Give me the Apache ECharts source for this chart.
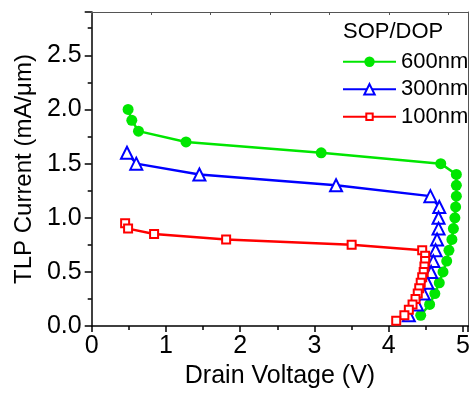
<!DOCTYPE html>
<html>
<head>
<meta charset="utf-8">
<script src="https://cdn.jsdelivr.net/npm/echarts@6/dist/echarts.min.js"></script>
<style>
  html, body { margin: 0; padding: 0; background: #fff; }
  #chart { width: 473px; height: 394px; }
</style>
</head>
<body>
<div id="chart"></div>
<script>
// [drain voltage (V), TLP current (mA/um)]
const sop600 = [[0.49, 2.00], [0.54, 1.90], [0.63, 1.80], [1.27, 1.70], [3.09, 1.60], [4.70, 1.50],
  [4.91, 1.40], [4.91, 1.30], [4.91, 1.20], [4.90, 1.10], [4.89, 1.00], [4.87, 0.90], [4.85, 0.80],
  [4.81, 0.70], [4.78, 0.60], [4.73, 0.50], [4.68, 0.40], [4.62, 0.30], [4.55, 0.20], [4.43, 0.10]]
const sop300 = [[0.475, 1.60], [0.60, 1.50], [1.45, 1.40], [3.29, 1.30], [4.56, 1.20], [4.68, 1.10],
  [4.67, 1.00], [4.67, 0.90], [4.65, 0.80], [4.63, 0.70], [4.60, 0.60], [4.57, 0.50], [4.52, 0.40],
  [4.47, 0.30], [4.38, 0.20], [4.27, 0.10]]
const sop100 = [[0.45, 0.95], [0.49, 0.90], [0.84, 0.85], [1.81, 0.80], [3.50, 0.75], [4.45, 0.70],
  [4.49, 0.65], [4.49, 0.60], [4.48, 0.55], [4.47, 0.50], [4.45, 0.45], [4.43, 0.40], [4.41, 0.35],
  [4.39, 0.30], [4.36, 0.25], [4.32, 0.20], [4.27, 0.15], [4.21, 0.10], [4.10, 0.05]]
const seriesNames = ['600nm', '300nm', '100nm']
const legendTitle = 'SOP/DOP'

const font = 'Liberation Sans, Arial, sans-serif'
let myChart = echarts.init(document.getElementById('chart'))

// one legend per row so each keeps its own marker size
const legendRow = (name, top, h) => ({
  orient: 'vertical',
  left: 342,
  top: top,
  padding: 0,
  itemWidth: 53,
  itemHeight: h,
  textStyle: { fontFamily: font, fontSize: 22, color: '#000' },
  data: [name]
})

myChart.setOption({
  animation: false,
  title: {
    text: legendTitle,
    left: 343,
    top: 21,
    padding: 0,
    textStyle: { fontFamily: font, fontSize: 22, fontWeight: 'normal', color: '#000' }
  },
  legend: [
    legendRow(seriesNames[0], 50.7, 13),
    legendRow(seriesNames[1], 78.3, 13),
    legendRow(seriesNames[2], 105.7, 8)
  ],
  grid: { left: 91.7, right: 1.3, top: 12, bottom: 64.7 },
  xAxis: [
    {
      type: 'value',
      min: 0,
      max: 5.07,
      interval: 1,
      name: 'Drain Voltage (V)',
      nameLocation: 'middle',
      nameGap: 36,
      nameTextStyle: { fontFamily: font, fontSize: 25, color: '#000' },
      axisLine: { onZero: false, lineStyle: { color: '#000', width: 1.5 } },
      axisTick: { inside: false, length: 6, lineStyle: { color: '#000', width: 1.5 } },
      minorTick: { show: true, splitNumber: 2, length: 4, lineStyle: { color: '#000', width: 1.5 } },
      axisLabel: { fontFamily: font, fontSize: 25, color: '#000', margin: 8, showMaxLabel: false },
      splitLine: { show: false }
    },
    {
      type: 'value',
      position: 'top',
      min: 0,
      max: 5.07,
      interval: 0.8,
      axisLine: { show: true, onZero: false, lineStyle: { color: '#555', width: 1 } },
      axisTick: { show: true, inside: true, length: 3, lineStyle: { color: '#555' } },
      axisLabel: { show: false },
      splitLine: { show: false }
    }
  ],
  yAxis: [
    {
      type: 'value',
      min: 0,
      max: 2.9,
      interval: 0.5,
      name: 'TLP Current (mA/\u03bcm)',
      nameLocation: 'middle',
      nameGap: 54,
      nameTextStyle: { fontFamily: font, fontSize: 24, color: '#000' },
      axisLine: { onZero: false, lineStyle: { color: '#000', width: 1.5 } },
      axisTick: { inside: false, length: 7, lineStyle: { color: '#000', width: 1.5 } },
      minorTick: { show: true, splitNumber: 2, length: 4, lineStyle: { color: '#000', width: 1.5 } },
      axisLabel: {
        fontFamily: font, fontSize: 25, color: '#000', margin: 10, showMaxLabel: false,
        formatter: (v) => v.toFixed(1)
      },
      splitLine: { show: false }
    },
    {
      type: 'value',
      position: 'right',
      min: 0,
      max: 2.9,
      axisLine: { show: true, onZero: false, lineStyle: { color: '#555', width: 1 } },
      axisTick: { show: false },
      axisLabel: { show: false },
      splitLine: { show: false }
    }
  ],
  series: [
    {
      name: seriesNames[0],
      type: 'line',
      data: sop600,
      symbol: 'circle',
      symbolSize: 11,
      lineStyle: { color: '#00e600', width: 2.5 },
      itemStyle: { color: '#00e600' }
    },
    {
      name: seriesNames[1],
      type: 'line',
      data: sop300,
      symbol: 'triangle',
      symbolSize: 12,
      lineStyle: { color: '#0000ff', width: 2.5 },
      itemStyle: { color: '#ffffff', borderColor: '#0000ff', borderWidth: 2 }
    },
    {
      name: seriesNames[2],
      type: 'line',
      data: sop100,
      symbol: 'rect',
      symbolSize: 8,
      lineStyle: { color: '#ff0000', width: 2.5 },
      itemStyle: { color: '#ffffff', borderColor: '#ff0000', borderWidth: 2 }
    }
  ]
})

window.addEventListener('resize', () => {
  myChart.resize()
})
</script>
</body>
</html>
